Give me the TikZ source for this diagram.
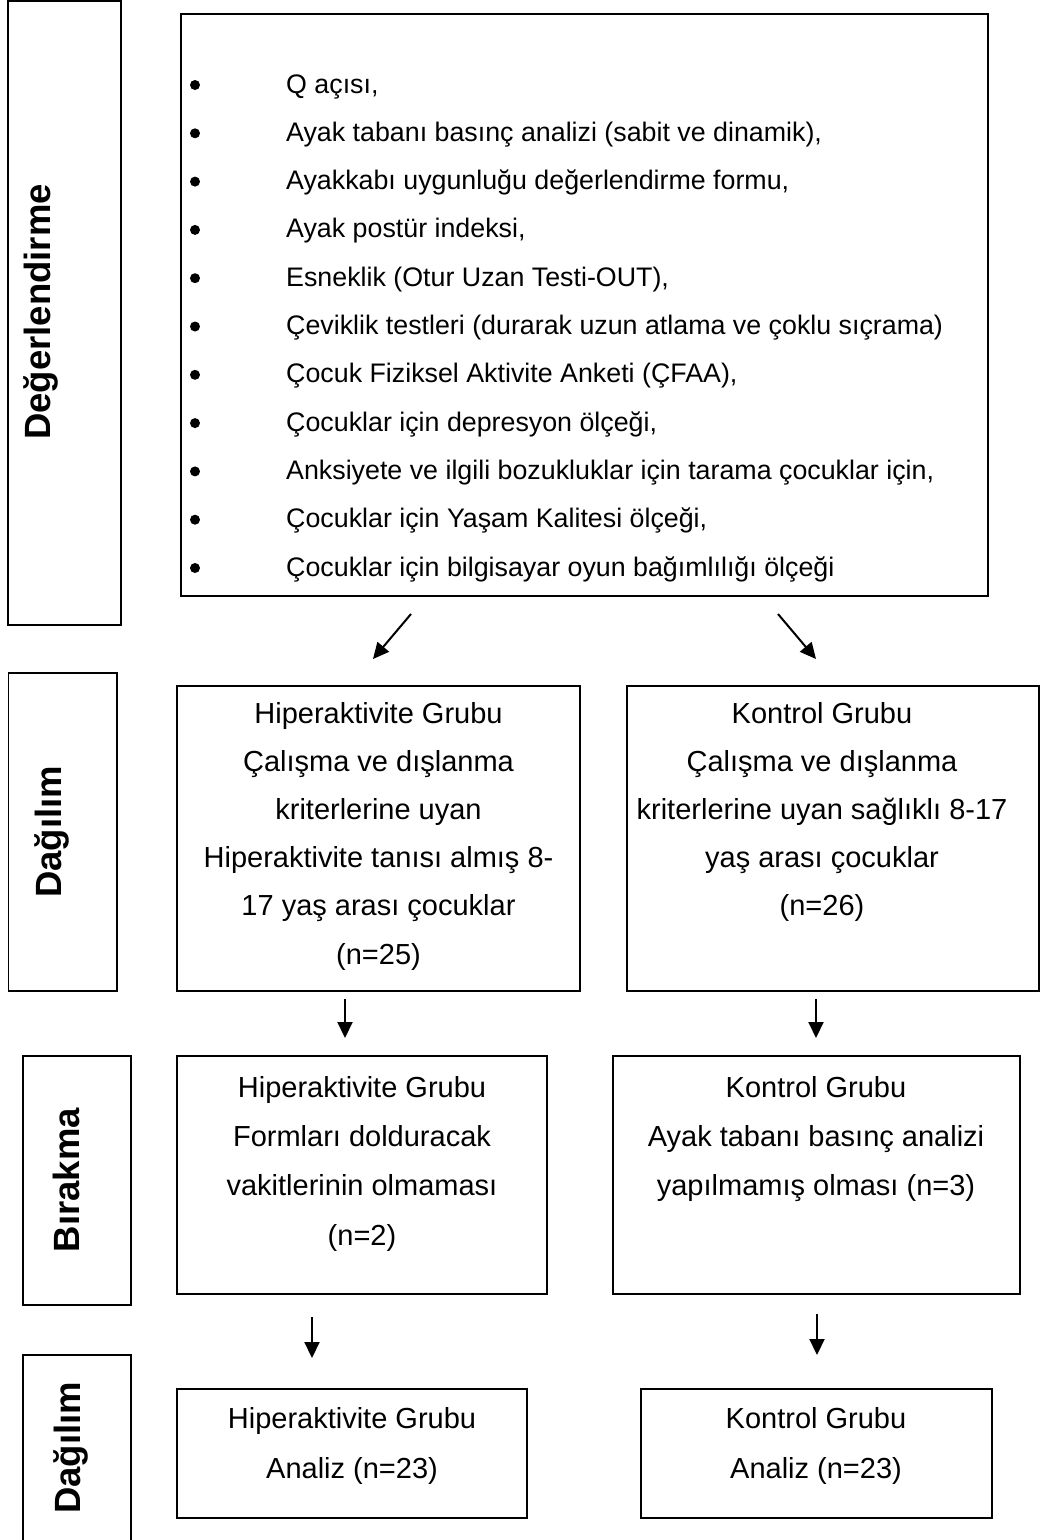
\documentclass[tikz,border=0pt]{standalone}
\usepackage{fontspec}
\setmainfont{Liberation Sans}
\usetikzlibrary{arrows.meta}
\begin{document}
\begin{tikzpicture}[x=1pt,y=-1pt,
  box/.style={draw=black, line width=1.8pt, rectangle, inner sep=0pt, outer sep=0pt, anchor=north west},
  topbox/.style={box, line width=2.4pt},
  lab/.style={font=\fontsize{36.5}{36}\selectfont\bfseries, rotate=90, anchor=base, inner sep=0pt},
  item/.style={font=\fontsize{26.8}{30}\selectfont, anchor=base west, inner sep=0pt},
  txt/.style={font=\fontsize{29}{32}\selectfont, anchor=base, inner sep=0pt},
  arr/.style={line width=2pt, -{Triangle[length=16pt,width=15pt]}},
  dot/.style={circle, fill=black, inner sep=0pt, minimum size=10pt}
]
\useasboundingbox (0,0) rectangle (1041,1540);

% side label boxes
\node[topbox, minimum width=113pt, minimum height=624pt] (L1) at (8,1) {};
\node[lab] (L1t) at (50,312) {Değerlendirme};
\node[box, minimum width=108.5pt, minimum height=318pt] (L2) at (8.5,673) {};
\node[lab] (L2t) at (61.5,832) {Dağılım};
\node[box, minimum width=108pt, minimum height=249pt] (L3) at (23,1056) {};
\node[lab] (L3t) at (79,1180) {Bırakma};
\node[box, minimum width=108pt, minimum height=190pt] (L4) at (23,1355) {};
\node[lab] (L4t) at (80,1448) {Dağılım};

% top box with bullet list
\node[topbox, minimum width=807pt, minimum height=582pt] (T) at (181,14) {};
\foreach \t [count=\i] in {{Q açısı,},
  {Ayak tabanı basınç analizi (sabit ve dinamik),},
  {Ayakkabı uygunluğu değerlendirme formu,},
  {Ayak postür indeksi,},
  {Esneklik (Otur Uzan Testi-OUT),},
  {Çeviklik testleri (durarak uzun atlama ve çoklu sıçrama)},
  {Çocuk Fiziksel Aktivite Anketi (ÇFAA),},
  {Çocuklar için depresyon ölçeği,},
  {Anksiyete ve ilgili bozukluklar için tarama çocuklar için,},
  {Çocuklar için Yaşam Kalitesi ölçeği,},
  {Çocuklar için bilgisayar oyun bağımlılığı ölçeği}}{
  \node[dot] (d\i) at (195,{85+48.3*(\i-1)}) {};
  \node[item] (i\i) at (286,{93+48.3*(\i-1)}) {\t};
}

% row 1
\node[box, minimum width=403pt, minimum height=305pt] (H1) at (177,686) {};
\node[txt] (H1a) at (378.5,723) {Hiperaktivite Grubu};
\node[txt] (H1b) at (378.5,771.2) {Çalışma ve dışlanma};
\node[txt] (H1c) at (378.5,819.4) {kriterlerine uyan};
\node[txt] (H1d) at (378.5,867.6) {Hiperaktivite tanısı almış 8-};
\node[txt] (H1e) at (378.5,915.8) {17 yaş arası çocuklar};
\node[txt] (H1f) at (378.5,964) {(n=25)};

\node[box, minimum width=412pt, minimum height=305pt] (K1) at (627,686) {};
\node[txt] (K1a) at (822,723) {Kontrol Grubu};
\node[txt] (K1b) at (822,771.2) {Çalışma ve dışlanma};
\node[txt] (K1c) at (822,819.4) {kriterlerine uyan sağlıklı 8-17};
\node[txt] (K1d) at (822,867.6) {yaş arası çocuklar};
\node[txt] (K1e) at (822,915.8) {(n=26)};

% row 2
\node[box, minimum width=370pt, minimum height=238pt] (H2) at (177,1056) {};
\node[txt] (H2a) at (362,1097) {Hiperaktivite Grubu};
\node[txt] (H2b) at (362,1146) {Formları dolduracak};
\node[txt] (H2c) at (362,1195) {vakitlerinin olmaması};
\node[txt] (H2d) at (362,1245) {(n=2)};

\node[box, minimum width=407pt, minimum height=238pt] (K2) at (613,1056) {};
\node[txt] (K2a) at (816,1097) {Kontrol Grubu};
\node[txt] (K2b) at (816,1146) {Ayak tabanı basınç analizi};
\node[txt] (K2c) at (816,1195) {yapılmamış olması (n=3)};

% row 3
\node[box, minimum width=350pt, minimum height=129pt] (H3) at (177,1389) {};
\node[txt] (H3a) at (352,1428) {Hiperaktivite Grubu};
\node[txt] (H3b) at (352,1478) {Analiz (n=23)};

\node[box, minimum width=351pt, minimum height=129pt] (K3) at (641,1389) {};
\node[txt] (K3a) at (816,1428) {Kontrol Grubu};
\node[txt] (K3b) at (816,1478) {Analiz (n=23)};

% arrow end points
\coordinate (a1s) at (411,614); \coordinate (a1e) at (373,659);
\coordinate (a2s) at (778,614); \coordinate (a2e) at (816,659);
\coordinate (a3s) at (345,999); \coordinate (a3e) at (345,1038);
\coordinate (a4s) at (816,999); \coordinate (a4e) at (816,1038);
\coordinate (a5s) at (312,1317); \coordinate (a5e) at (312,1358);
\coordinate (a6s) at (817,1314); \coordinate (a6e) at (817,1355);
\foreach \k in {1,...,6}{
  \draw[arr] (a\k s) -- (a\k e);
}
\end{tikzpicture}
\end{document}
